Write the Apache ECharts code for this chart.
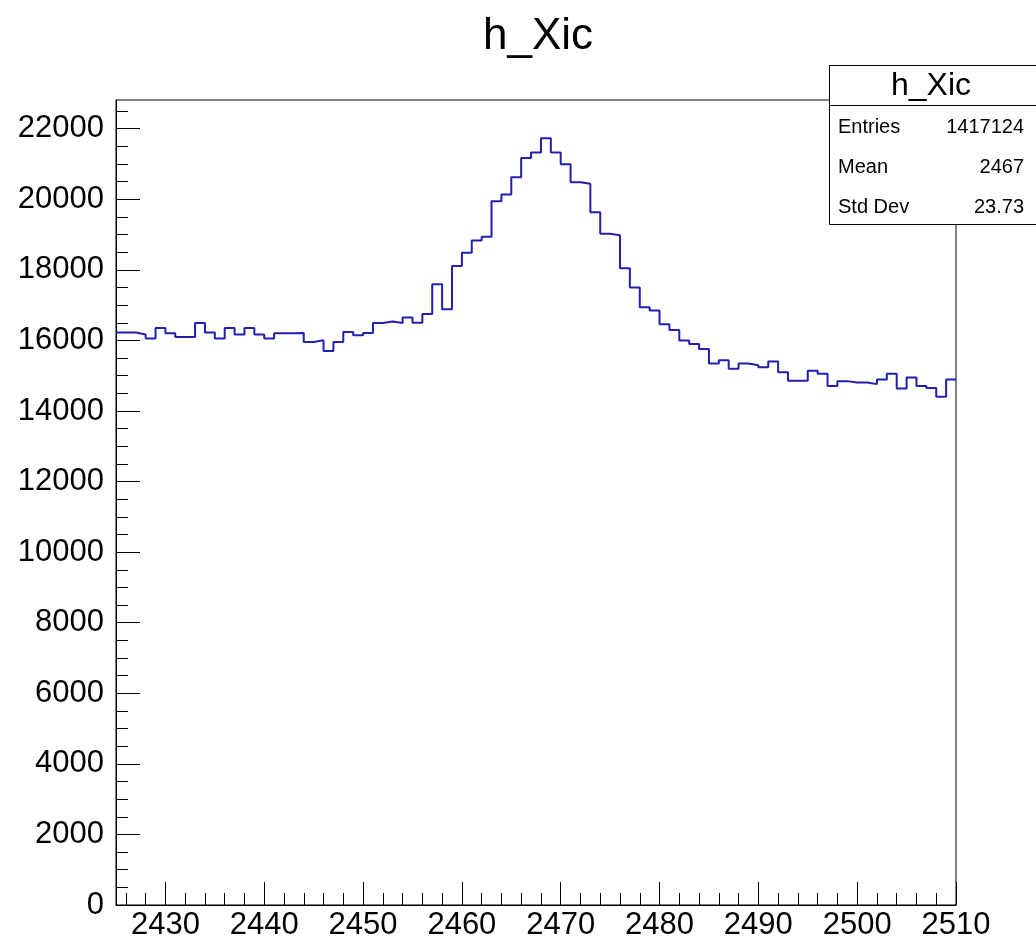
<!DOCTYPE html>
<html>
<head>
<meta charset="utf-8">
<title>h_Xic</title>
<script src="https://cdn.jsdelivr.net/npm/echarts@6/dist/echarts.min.js"></script>
<style>
  html, body { margin: 0; padding: 0; background: #fff; }
  #chart { width: 1036px; height: 941px; }
</style>
</head>
<body>
<div id="chart"></div>
<script>
// Histogram binning: 85 bins of width 1 from 2425 to 2510
const xMin = 2425;
const xMax = 2510;
const binWidth = 1;

// Bin contents, left to right
const counts = [
  16224, 16224, 16168, 16055, 16354, 16204, 16100, 16100, 16496, 16224,
  16055, 16354, 16168, 16354, 16168, 16055, 16204, 16204, 16210, 15959,
  16006, 15704, 15959, 16241, 16148, 16213, 16496, 16535, 16496, 16649,
  16500, 16750, 17590, 16883, 18108, 18487, 18834, 18939, 19946, 20135,
  20625, 21173, 21323, 21728, 21323, 20992, 20483, 20438, 19635, 19024,
  18984, 18043, 17497, 16940, 16846, 16459, 16298, 15998, 15902, 15758,
  15348, 15441, 15195, 15348, 15300, 15243, 15404, 15102, 14856, 14856,
  15138, 15054, 14706, 14847, 14810, 14810, 14762, 14895, 15054, 14640,
  14952, 14706, 14649, 14403, 14895
];

// Axis tick positions and labels
const xMajorTicks = [2430, 2440, 2450, 2460, 2470, 2480, 2490, 2500, 2510];
const xMinorTicks = [2426, 2428, 2432, 2434, 2436, 2438, 2442, 2444, 2446, 2448,
  2452, 2454, 2456, 2458, 2462, 2464, 2466, 2468, 2472, 2474, 2476, 2478,
  2482, 2484, 2486, 2488, 2492, 2494, 2496, 2498, 2502, 2504, 2506, 2508];
const yMajorTicks = [0, 2000, 4000, 6000, 8000, 10000, 12000, 14000, 16000, 18000, 20000, 22000];
const yMinorTicks = [500, 1000, 1500, 2500, 3000, 3500, 4500, 5000, 5500, 6500, 7000, 7500,
  8500, 9000, 9500, 10500, 11000, 11500, 12500, 13000, 13500, 14500, 15000, 15500,
  16500, 17000, 17500, 18500, 19000, 19500, 20500, 21000, 21500, 22500];

// Statistics box entries
const histName = 'h_Xic';
const statLabels = ['Entries', 'Mean', 'Std Dev'];
const statValues = ['1417124', '2467', '23.73'];

// Step-line points at bin low edges, closed at the upper edge
const stepPoints = counts.map((c, i) => [xMin + i * binWidth, c]);
stepPoints.push([xMax, counts[counts.length - 1]]);

// Vertical range headroom as in ROOT (5% above the maximum)
const yMax = Math.max(...counts) * 1.05;

const FONT = '"Liberation Sans", Arial, Helvetica, sans-serif';
const plainNumber = v => String(Math.round(v));

const chart = echarts.init(document.getElementById('chart'), null, { renderer: 'canvas' });

const statTexts = [];
statLabels.forEach((lab, i) => {
  const cy = 127 + i * 40;
  statTexts.push({
    type: 'text', x: 838, y: cy, z: 101,
    style: { text: lab, font: '20px ' + FONT, fill: '#000', textAlign: 'left', textVerticalAlign: 'middle' }
  });
  statTexts.push({
    type: 'text', x: 1024, y: cy, z: 101,
    style: { text: statValues[i], font: '20px ' + FONT, fill: '#000', textAlign: 'right', textVerticalAlign: 'middle' }
  });
});

const axisTickBase = { inside: true, lineStyle: { color: '#000', width: 1 } };

chart.setOption({
  animation: false,
  backgroundColor: '#fff',
  title: {
    text: histName,
    left: 533,
    top: 10,
    textAlign: 'center',
    textStyle: { fontFamily: FONT, fontSize: 44, fontWeight: 'normal', color: '#000' }
  },
  grid: {
    left: 116, right: 80, top: 100, bottom: 35,
    show: true, borderColor: '#000', borderWidth: 1, backgroundColor: '#fff'
  },
  xAxis: [
    {
      type: 'value', min: xMin, max: xMax, position: 'bottom',
      axisLine: { show: true, lineStyle: { color: '#000', width: 1 } },
      axisTick: Object.assign({ length: 23, customValues: xMajorTicks }, axisTickBase),
      axisLabel: {
        customValues: xMajorTicks, margin: 5, color: '#000',
        fontFamily: FONT, fontSize: 31, formatter: plainNumber
      },
      splitLine: { show: false }
    },
    {
      type: 'value', min: xMin, max: xMax, position: 'bottom',
      axisLine: { show: false },
      axisTick: Object.assign({ length: 12, customValues: xMinorTicks }, axisTickBase),
      axisLabel: { show: false },
      splitLine: { show: false }
    }
  ],
  yAxis: [
    {
      type: 'value', min: 0, max: yMax, position: 'left',
      axisLine: { show: true, lineStyle: { color: '#000', width: 1 } },
      axisTick: Object.assign({ length: 24, customValues: yMajorTicks }, axisTickBase),
      axisLabel: {
        customValues: yMajorTicks, margin: 12, color: '#000',
        fontFamily: FONT, fontSize: 31, formatter: plainNumber
      },
      splitLine: { show: false }
    },
    {
      type: 'value', min: 0, max: yMax, position: 'left',
      axisLine: { show: false },
      axisTick: Object.assign({ length: 12, customValues: yMinorTicks }, axisTickBase),
      axisLabel: { show: false },
      splitLine: { show: false }
    }
  ],
  series: [
    {
      type: 'line',
      xAxisIndex: 0,
      yAxisIndex: 0,
      data: stepPoints,
      step: 'end',
      showSymbol: false,
      lineStyle: { color: '#2020b0', width: 2 },
      z: 5
    }
  ],
  graphic: [
    {
      type: 'rect', z: 100,
      shape: { x: 829.5, y: 65.5, width: 220, height: 159 },
      style: { fill: '#fff', stroke: '#000', lineWidth: 1 }
    },
    {
      type: 'line', z: 101,
      shape: { x1: 829.5, y1: 105.5, x2: 1036, y2: 105.5 },
      style: { stroke: '#000', lineWidth: 1 }
    },
    {
      type: 'text', x: 931, y: 86, z: 101,
      style: { text: histName, font: '32px ' + FONT, fill: '#000', textAlign: 'center', textVerticalAlign: 'middle' }
    }
  ].concat(statTexts)
});
</script>
</body>
</html>
